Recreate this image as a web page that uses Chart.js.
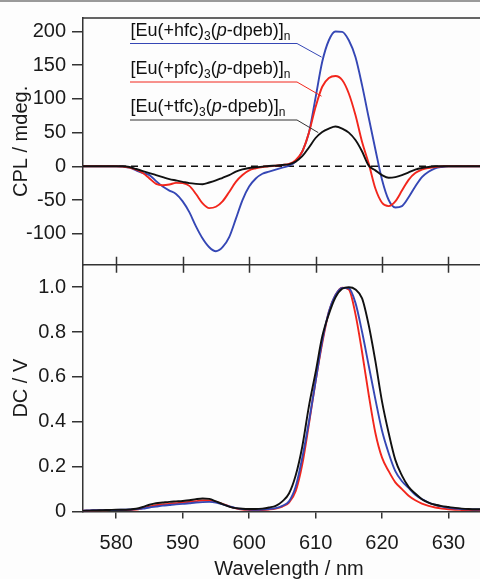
<!DOCTYPE html>
<html><head><meta charset="utf-8">
<script src="https://cdn.jsdelivr.net/npm/chart.js@4/dist/chart.umd.min.js"></script>
<style>
html,body{margin:0;padding:0;background:#fdfdfd;overflow:hidden;width:480px;height:579px;}
#wrap{position:absolute;left:0;top:0;width:495px;height:582px;}
#topline{position:absolute;left:0;top:0;width:480px;height:2px;background:#9a9a9a;z-index:2;}
</style></head><body>
<div id="topline"></div>
<div id="wrap"><canvas id="c" width="495" height="582"></canvas></div>
<script>
// ---- data ----
const wavelength = [575,576,577,578,579,580,581,582,583,584,585,586,587,588,589,590,591,592,593,594,595,596,597,598,599,600,601,602,603,604,605,606,607,608,609,610,611,612,613,614,615,616,617,618,619,620,621,622,623,624,625,626,627,628,629,630,631,632,633,634,635];
// CPL (mdeg)
const cplHfc = [0,0,0,0,0,0,-0.5,-2,-6,-10,-13,-22,-30,-36,-41,-52,-68,-89,-107,-120,-126,-120,-105,-78,-50,-30,-18,-11,-8,-5,-2,1,7,22,50,102,155,187,200,199.5,187,162,120,72,25,-20,-50,-61,-59,-46,-30,-16,-8,-3,-1,0,0,0,0,0,0];
const cplPfc = [0,0,0,0,0,0,-0.5,-2,-5,-10,-18,-26,-28,-27,-24.5,-25,-29,-41,-55,-62,-60,-52,-38,-23,-13,-6,-3,-1,0,1,2,3.5,9,22,50,88,118,131,134,128,108,76,36,4,-33,-54,-59,-52,-36,-20,-10,-5,-2.5,-1,0,0,0,0,0,0,0];
const cplTfc = [0,0,0,0,0,0,0,-1,-4,-7,-10,-13,-16,-19,-21,-23,-25,-26,-26.5,-24,-21,-17,-13,-8,-4.5,-2.5,-1.5,-0.5,0.5,1,2,3,7,15,28,42,51,56,59,56,50,39,22,1,-6,-13,-17,-16,-13,-9,-5,-2.5,-1,0,0,0,0,0,0,0,0];
// DC (V)
const dcHfc = [0.004,0.005,0.006,0.006,0.007,0.007,0.008,0.009,0.011,0.013,0.018,0.022,0.026,0.029,0.032,0.034,0.037,0.040,0.042,0.043,0.040,0.032,0.023,0.015,0.011,0.009,0.008,0.009,0.011,0.015,0.025,0.045,0.11,0.24,0.40,0.58,0.76,0.89,0.965,0.997,0.995,0.93,0.80,0.65,0.50,0.36,0.26,0.18,0.135,0.105,0.075,0.055,0.04,0.03,0.022,0.017,0.013,0.011,0.010,0.009,0.009];
const dcPfc = [0.004,0.004,0.005,0.005,0.006,0.006,0.007,0.007,0.009,0.015,0.022,0.028,0.031,0.034,0.037,0.040,0.043,0.046,0.049,0.049,0.044,0.034,0.023,0.014,0.009,0.007,0.006,0.007,0.009,0.013,0.022,0.040,0.09,0.21,0.39,0.58,0.75,0.89,0.965,0.998,0.99,0.88,0.71,0.52,0.35,0.24,0.18,0.13,0.10,0.07,0.05,0.035,0.025,0.018,0.013,0.010,0.008,0.007,0.006,0.006,0.005];
const dcTfc = [0.003,0.004,0.005,0.006,0.007,0.008,0.008,0.009,0.012,0.020,0.030,0.037,0.040,0.043,0.045,0.047,0.050,0.055,0.058,0.056,0.045,0.033,0.022,0.015,0.012,0.011,0.011,0.013,0.018,0.025,0.045,0.08,0.16,0.29,0.47,0.62,0.78,0.88,0.955,0.993,1.0,0.99,0.95,0.83,0.67,0.49,0.35,0.23,0.16,0.11,0.08,0.055,0.04,0.03,0.024,0.02,0.016,0.013,0.011,0.010,0.010];
const zeroLine = [0,0];
const zeroLineX = [575,637];
const xTicks = [580,590,600,610,620,630];
const cplTicks = [-100,-50,0,50,100,150,200];
const dcTicks = [0,0.2,0.4,0.6,0.8,1.0];
const ligands = ['hfc','pfc','tfc'];
// leader line end points on curves (wavelength, CPL)
const leaderWl = [610.9,610.9,610.4];
const leaderCpl = [162,104,50];

const BLUE = '#3547b5', RED = '#f2261c', BLACK = '#111111';
const FONT = "'Liberation Sans', Arial, sans-serif";

function pts(xs, ys){ return xs.map((x,i)=>({x:x, y:ys[i]})); }
function line(label, data, color, axis, order){
  return {label, data, borderColor: color, borderWidth: 1.9, pointRadius: 0, fill: false,
    cubicInterpolationMode: 'monotone', yAxisID: axis, order};
}

const legendPlugin = {
  id: 'legendText',
  afterDatasetsDraw(chart){
    const ctx = chart.ctx;
    const xs = chart.scales.x, yt = chart.scales.yTop;
    const colors = [BLUE, RED, '#333'];
    const underY = [43.5, 82, 120];
    ctx.save();
    for (let k=0;k<3;k++){
      const base = underY[k] - 8;
      let x = 130.5;
      const segs = [['[Eu(+'+ligands[k]+')', 'n'], ['3','s'], ['(', 'n'], ['p','i'], ['-dpeb)]','n'], ['n','s']];
      ctx.fillStyle = '#111';
      ctx.textBaseline = 'alphabetic';
      ctx.textAlign = 'left';
      for (const [t, s] of segs){
        if (s==='n'){ ctx.font = '18px ' + FONT; ctx.fillText(t, x, base); }
        else if (s==='i'){ ctx.font = 'italic 18px ' + FONT; ctx.fillText(t, x, base); }
        else { ctx.font = '12px ' + FONT; ctx.fillText(t, x, base + 4); }
        x += ctx.measureText(t).width;
      }
      ctx.strokeStyle = colors[k];
      ctx.lineWidth = 1;
      ctx.beginPath();
      ctx.moveTo(130, underY[k]);
      ctx.lineTo(297, underY[k]);
      ctx.lineTo(xs.getPixelForValue(leaderWl[k]), yt.getPixelForValue(leaderCpl[k]));
      ctx.stroke();
    }
    ctx.restore();
  },
  afterDraw(chart){
    const ctx = chart.ctx;
    const xs = chart.scales.x, yt = chart.scales.yTop;
    ctx.save();
    ctx.strokeStyle = '#333';
    ctx.lineWidth = 1.5;
    ctx.beginPath();
    ctx.moveTo(xs.left, yt.top); ctx.lineTo(xs.right, yt.top);
    ctx.moveTo(xs.left, yt.bottom); ctx.lineTo(xs.right, yt.bottom);
    for (const v of xTicks){
      const px = Math.round(xs.getPixelForValue(v)) + 0.5;
      ctx.moveTo(px, yt.bottom - 8); ctx.lineTo(px, yt.bottom + 8);
    }
    ctx.stroke();
    ctx.restore();
  }
};

const tickFont = {family: FONT, size: 20};
const yCommon = {
  type: 'linear', position: 'left', stack: 'panels', stackWeight: 1,
  grid: {drawOnChartArea: false, tickLength: 11, color: '#333', lineWidth: 1.5},
  border: {color: '#333', width: 1.5},
  afterFit(s){ s.width = 83; }
};

new Chart(document.getElementById('c'), {
  type: 'line',
  data: {
    datasets: [
      line('tfc CPL', pts(wavelength, cplTfc), BLACK, 'yTop', 1),
      line('pfc CPL', pts(wavelength, cplPfc), RED, 'yTop', 2),
      line('hfc CPL', pts(wavelength, cplHfc), BLUE, 'yTop', 3),
      {label:'zero', data: pts(zeroLineX, zeroLine), borderColor:'#111', borderWidth:1.5, borderDash:[7,5], pointRadius:0, yAxisID:'yTop', order: 10},
      line('tfc DC', pts(wavelength, dcTfc), BLACK, 'yBot', 1),
      line('hfc DC', pts(wavelength, dcHfc), BLUE, 'yBot', 2),
      line('pfc DC', pts(wavelength, dcPfc), RED, 'yBot', 3)
    ]
  },
  options: {
    responsive: false, animation: false, devicePixelRatio: 1,
    layout: {padding: {top: 14, right: 0, left: 0, bottom: 0}},
    plugins: {legend: {display: false}, tooltip: {enabled: false}},
    scales: {
      x: {
        type: 'linear', position: 'bottom', min: 575, max: 637,
        afterBuildTicks(s){ s.ticks = xTicks.map(v=>({value:v})); },
        ticks: {font: tickFont, color: '#1a1a1a', padding: 13, maxRotation: 0, autoSkip: false, callback: v => String(v)},
        grid: {drawOnChartArea: false, tickLength: 7, color: '#333', lineWidth: 1.5},
        border: {color: '#333', width: 1.5},
        title: {display: true, text: 'Wavelength / nm', font: {family: FONT, size: 20}, color: '#1a1a1a', padding: {top: 0, bottom: 1}},
        afterFit(s){ s.height = 70.5; }
      },
      yBot: Object.assign({}, yCommon, {
        min: 0, max: 1.1,
        afterBuildTicks(s){ s.ticks = dcTicks.map(v=>({value:v})); },
        ticks: {font: tickFont, color: '#1a1a1a', padding: 6, autoSkip: false, callback: v => v === 0 ? '0' : v.toFixed(1)},
        title: {display: true, text: 'DC / V', font: {family: FONT, size: 20}, color: '#1a1a1a', padding: {top: 9, bottom: 0}}
      }),
      yTop: Object.assign({}, yCommon, {
        min: -146, max: 220,
        afterBuildTicks(s){ s.ticks = cplTicks.map(v=>({value:v})); },
        ticks: {font: tickFont, color: '#1a1a1a', padding: 6, autoSkip: false, callback: v => String(v)},
        title: {display: true, text: 'CPL / mdeg.', font: {family: FONT, size: 20}, color: '#1a1a1a', padding: {top: 9, bottom: 0}}
      })
    }
  },
  plugins: [legendPlugin]
});
</script>
</body></html>
